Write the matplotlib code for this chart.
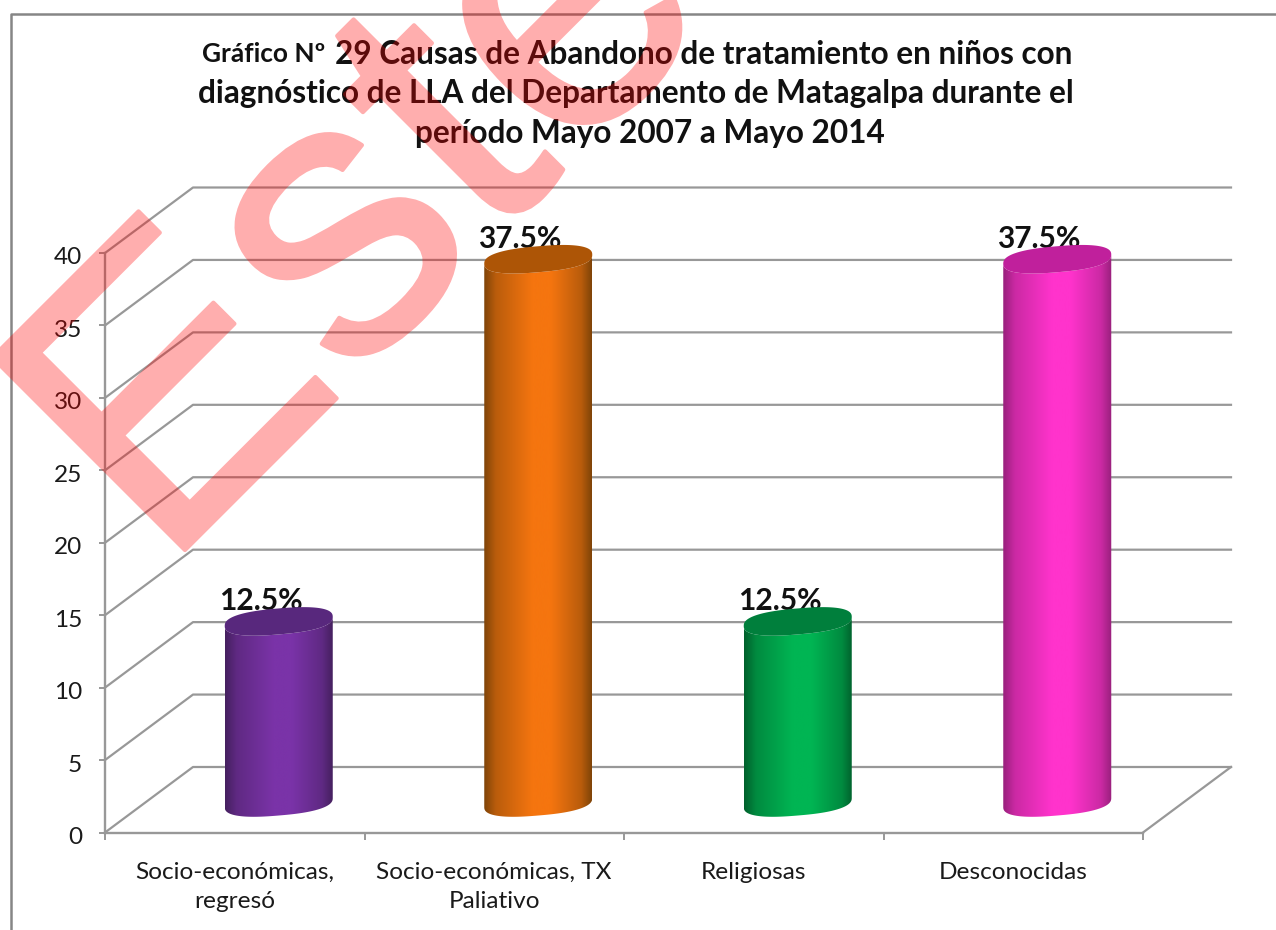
import numpy as np
import matplotlib
matplotlib.use('Agg')
import matplotlib.pyplot as plt
import matplotlib.patheffects as pe
from matplotlib.colors import LinearSegmentedColormap, to_rgb
from matplotlib.lines import Line2D
from matplotlib.patches import Polygon
from matplotlib.transforms import ScaledTranslation

# data
categories = ['Socio-económicas,\nregresó', 'Socio-económicas, TX\nPaliativo', 'Religiosas', 'Desconocidas']
values = [12.5, 37.5, 12.5, 37.5]
value_labels = ['12.5%', '37.5%', '12.5%', '37.5%']
y_ticks = [0, 5, 10, 15, 20, 25, 30, 35, 40]

# colores: borde, centro, tapa
edge_colors = ['#45205f', '#7f4408', '#00602c', '#98207c']
mid_colors = ['#7a33a8', '#f5750f', '#00b553', '#ff33cc']
cap_colors = ['#58287d', '#ad5506', '#007f3c', '#c0209c']

W, H = 1276, 930
GRID = '#989898'
TXT = '#1a1a1a'
FONT = 'Lato'


def watermark_alpha(img, dpi):
    # transparencia aplicada a todo el texto, relleno y trazo juntos
    img = img.copy()
    img[..., 3] *= 0.32
    return img, 0, 0


fig = plt.figure(figsize=(W / 100, H / 100), dpi=100, facecolor='white')
ax = fig.add_axes([105 / W, (H - 832.5) / H, 1038 / W, 579.5 / H], facecolor='none')
ax.set_xlim(0, 4)
ax.set_ylim(0, 40)

# profundidad de la caja 3D en unidades de datos
depth_x = 88 / (1038 / 4)
depth_y = 65.5 / (579.5 / 40)

# paredes y piso
for v in y_ticks:
    ax.plot([0, depth_x, 4 + depth_x], [v, v + depth_y, v + depth_y],
            color=GRID, lw=1.6, clip_on=False, zorder=1)
ax.plot([4, 4 + depth_x], [0, depth_y], color=GRID, lw=1.6, clip_on=False, zorder=1)

for s in ['top', 'right']:
    ax.spines[s].set_visible(False)
for s in ['left', 'bottom']:
    ax.spines[s].set_color(GRID)
    ax.spines[s].set_linewidth(1.7)

ax.set_yticks(y_ticks)
ax.set_yticklabels([str(v) for v in y_ticks], fontsize=17.6, family=FONT, color=TXT)
ax.tick_params(axis='y', length=4.5, width=1.4, color=GRID, pad=12)
for lbl in ax.get_yticklabels():
    lbl.set_transform(lbl.get_transform() + ScaledTranslation(0, -3 / 100, fig.dpi_scale_trans))
ax.set_xticks(range(5))
ax.set_xticklabels([])
ax.tick_params(axis='x', which='major', length=5, width=1.4, color=GRID)
ax.set_xticks([i + 0.5 for i in range(4)], minor=True)
ax.set_xticklabels(categories, minor=True, fontsize=17.6, family=FONT, color=TXT, linespacing=1.5)
ax.tick_params(axis='x', which='minor', length=0, pad=21)

# cilindros
half_w = 54 / (1038 / 4)
semi_h = 13 / (579.5 / 40)
tilt = 4.5 / (579.5 / 40)
base = 2.07
theta = np.linspace(0, 2 * np.pi, 180)
# elipse algo mas llena, como la tapa del cilindro de Excel
cos_t = np.sign(np.cos(theta)) * np.abs(np.cos(theta)) ** 0.8
sin_t = np.sign(np.sin(theta)) * np.abs(np.sin(theta)) ** 0.8
gradient = np.linspace(0, 1, 256).reshape(1, -1)

for i, v in enumerate(values):
    cx = i + 0.5 + depth_x / 2
    top = base + v
    ex = cx + half_w * cos_t
    ey = semi_h * sin_t + tilt * cos_t

    lower = theta >= np.pi
    body_x = np.concatenate([ex[lower], ex[lower][::-1]])
    body_y = np.concatenate([base + ey[lower], top + ey[lower][::-1]])
    body = Polygon(np.column_stack([body_x, body_y]), closed=True, fc='none', ec='none', zorder=3)
    ax.add_patch(body)

    blend = tuple((np.array(to_rgb(edge_colors[i])) + np.array(to_rgb(mid_colors[i]))) / 2)
    cmap = LinearSegmentedColormap.from_list(
        f'cil{i}', [(0, edge_colors[i]), (0.11, blend), (0.45, mid_colors[i]),
                    (0.62, mid_colors[i]), (0.9, blend), (1, edge_colors[i])])
    img = ax.imshow(gradient, extent=[cx - half_w, cx + half_w, base - 2, top + 2],
                    cmap=cmap, aspect='auto', zorder=3)
    img.set_clip_path(body)

    cap = Polygon(np.column_stack([ex, top + ey]), closed=True, fc=cap_colors[i], ec='none',
                  zorder=4, clip_on=False)
    ax.add_patch(cap)

    ax.annotate(value_labels[i], (cx, top), xytext=(-13, 14.5), textcoords='offset points',
                ha='center', va='center', fontsize=21.5, fontweight='bold', family=FONT,
                color='#111111', zorder=2, annotation_clip=False)

ax.set_xlim(0, 4)
ax.set_ylim(0, 40)

# titulo
title_kw = dict(family=FONT, fontweight='bold', color='#111111', va='center', fontsize=22.7)
fig.text(325 / W, 1 - 54 / H, 'Gráfico Nº', ha='right', **{**title_kw, 'fontsize': 18.9})
fig.text(335 / W, 1 - 54 / H, '29 Causas de Abandono de tratamiento en niños con', ha='left', **title_kw)
fig.text(636 / W, 1 - 93 / H, 'diagnóstico de LLA del Departamento de Matagalpa durante el', ha='center', **title_kw)
fig.text(650 / W, 1 - 133 / H, 'período Mayo 2007 a Mayo 2014', ha='center', **title_kw)

# borde del grafico
fig.add_artist(Line2D([11 / W, 11 / W, 1], [0, 1 - 14 / H, 1 - 14 / H], color='#868686', lw=1.8))

# marca de agua
mark = fig.text(162 / W, 1 - 573 / H, 'Este', rotation=45, rotation_mode='anchor', ha='left', va='baseline',
                family='Liberation Sans', fontsize=285, color='#ff0000', zorder=10)
mark.set_path_effects([pe.Stroke(linewidth=3, foreground='#ff0000'), pe.Normal()])
mark.set_agg_filter(watermark_alpha)

fig.savefig('out.png', dpi=100)
